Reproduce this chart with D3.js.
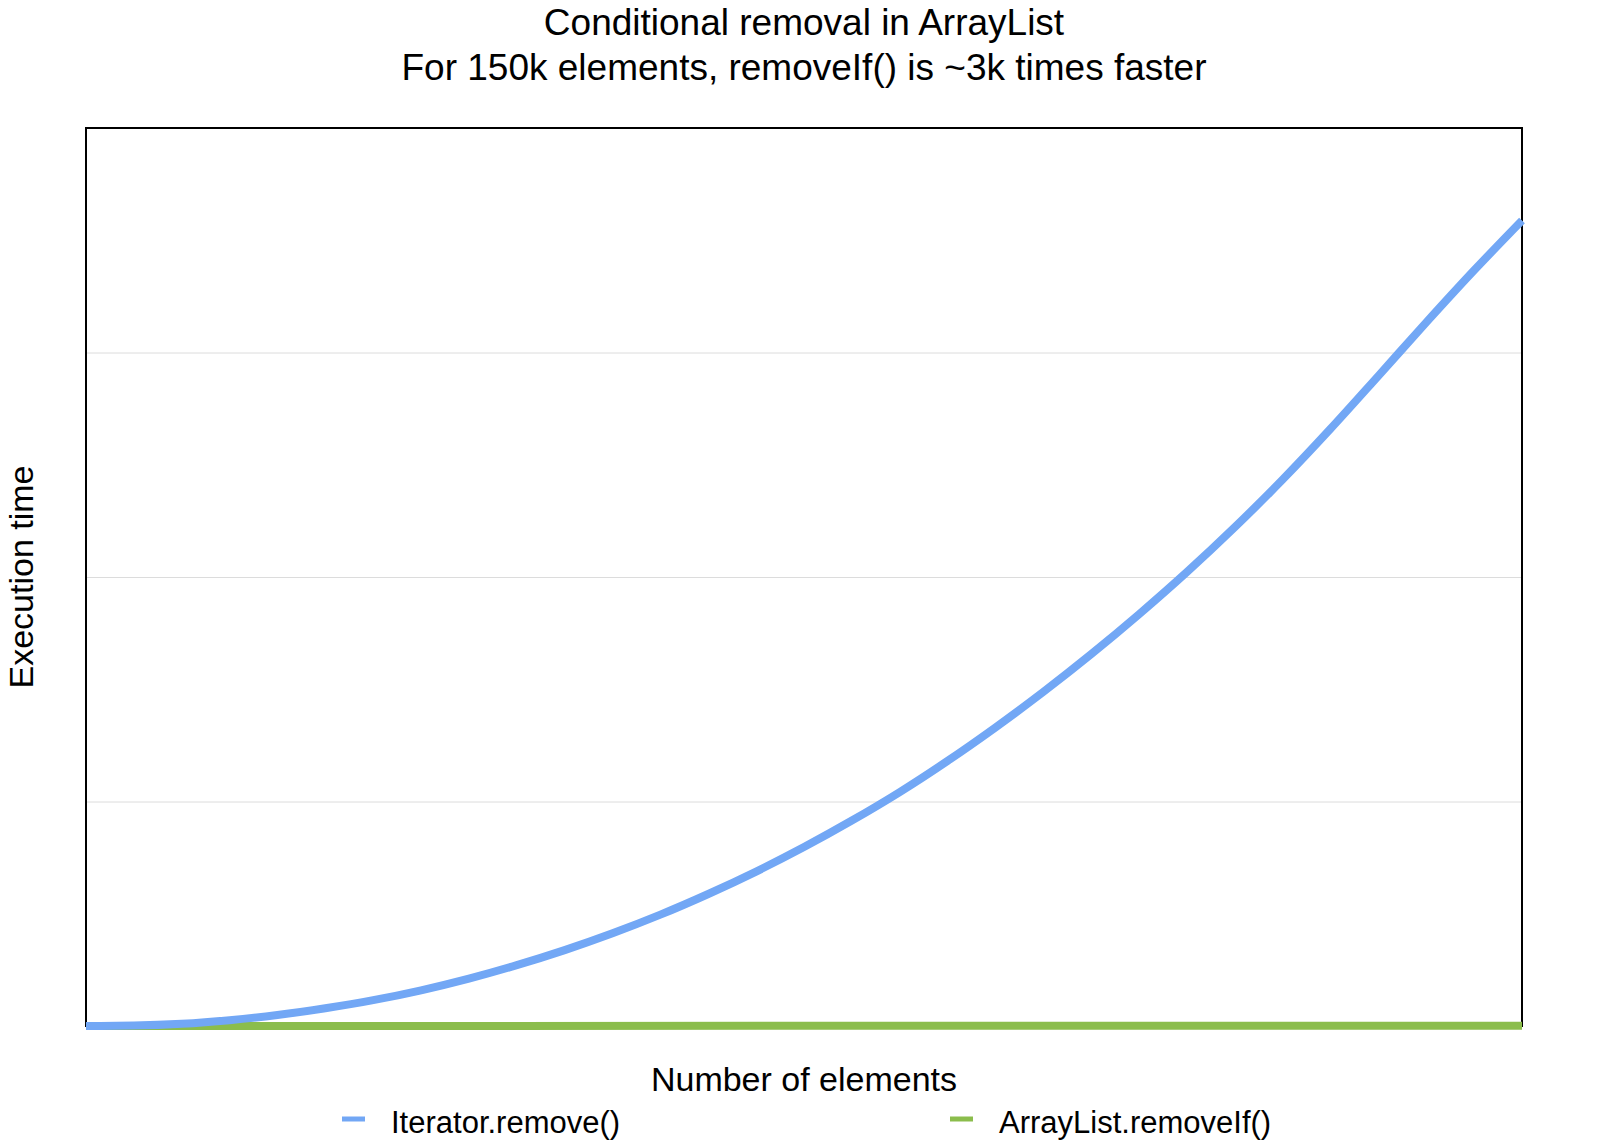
<!DOCTYPE html>
<html>
<head>
<meta charset="utf-8">
<script src="https://cdn.jsdelivr.net/npm/d3@7"></script>
<style>
  body { margin: 0; background: #fff; }
  text { font-family: "Liberation Sans", Arial, Helvetica, sans-serif; fill: #000; }
</style>
</head>
<body>
<div id="plot"></div>
<script>
// number of elements (thousands)
let elementsK = [0, 5, 10, 15, 20, 25, 30, 35, 40, 45, 50, 55, 60, 65, 70, 75,
  80, 85, 90, 95, 100, 105, 110, 115, 120, 125, 130, 135, 140, 145, 150];
// Iterator.remove() execution time (relative units, gridline = 1)
let iteratorTimes = [0, 0.002, 0.010, 0.026, 0.049, 0.079, 0.115, 0.159, 0.211, 0.271,
  0.338, 0.413, 0.496, 0.588, 0.688, 0.797, 0.915, 1.042, 1.181, 1.330,
  1.488, 1.656, 1.834, 2.022, 2.222, 2.434, 2.660, 2.896, 3.134, 3.366, 3.588];
// ArrayList.removeIf() execution time - flat along the bottom
let removeIfElementsK = [0, 150];
let removeIfTimes = [0, 0.0012];

let seriesNames = ['Iterator.remove()', 'ArrayList.removeIf()'];
let titleLines = ['Conditional removal in ArrayList', 'For 150k elements, removeIf() is ~3k times faster'];
let gridValues = [1, 2, 3];

let width = 1600, height = 1140;
let margin = { top: 128, bottom: 114, left: 86, right: 78 };

const colors = d3.scaleOrdinal()
  .domain(seriesNames)
  .range(['#72a7f5', '#8bbd4c']);

let svg = d3.select('#plot')
  .append('svg')
  .attr('width', width)
  .attr('height', height);

let xScale = d3.scaleLinear()
  .domain([0, 150])
  .range([margin.left, width - margin.right]);

let yScale = d3.scaleLinear()
  .domain([0, 4])
  .range([height - margin.bottom, margin.top]);

// gridlines
let grid = svg.append('g')
  .attr('transform', `translate(${margin.left},0)`)
  .call(d3.axisLeft(yScale)
    .tickValues(gridValues)
    .tickSize(-(width - margin.left - margin.right))
    .tickFormat(''));
grid.select('.domain').remove();
grid.selectAll('line').attr('stroke', '#dcdcdc').attr('stroke-width', 1);

// plot frame
svg.append('rect')
  .attr('x', margin.left)
  .attr('y', margin.top)
  .attr('width', width - margin.left - margin.right)
  .attr('height', height - margin.top - margin.bottom)
  .attr('fill', 'none')
  .attr('stroke', '#000')
  .attr('stroke-width', 2);

let line = d3.line()
  .x(d => xScale(d[0]))
  .y(d => yScale(d[1]))
  .curve(d3.curveMonotoneX);

svg.append('path')
  .datum(d3.zip(removeIfElementsK, removeIfTimes))
  .attr('d', line)
  .attr('fill', 'none')
  .attr('stroke', colors(seriesNames[1]))
  .attr('stroke-width', 8);

svg.append('path')
  .datum(d3.zip(elementsK, iteratorTimes))
  .attr('d', line)
  .attr('fill', 'none')
  .attr('stroke', colors(seriesNames[0]))
  .attr('stroke-width', 8)
  .attr('stroke-linejoin', 'round');

// title
let cx = (margin.left + width - margin.right) / 2;
svg.selectAll('.title')
  .data(titleLines)
  .enter()
  .append('text')
  .attr('class', 'title')
  .attr('x', cx)
  .attr('y', (d, i) => 35 + i * 45)
  .attr('text-anchor', 'middle')
  .style('font-size', '37px')
  .text(d => d);

// axis titles
svg.append('text')
  .attr('x', cx)
  .attr('y', 1091)
  .attr('text-anchor', 'middle')
  .style('font-size', '34px')
  .text('Number of elements');

svg.append('text')
  .attr('transform', `translate(33,${(margin.top + height - margin.bottom) / 2}) rotate(-90)`)
  .attr('text-anchor', 'middle')
  .style('font-size', '34px')
  .text('Execution time');

// legend
let legendX = [342, 950];
let legend = svg.selectAll('.legend')
  .data(seriesNames)
  .enter()
  .append('g')
  .attr('class', 'legend')
  .attr('transform', (d, i) => `translate(${legendX[i]},1119)`);

legend.append('line')
  .attr('x1', 0).attr('x2', 23)
  .attr('y1', 0).attr('y2', 0)
  .attr('stroke', d => colors(d))
  .attr('stroke-width', 5);

legend.append('text')
  .attr('x', 49)
  .attr('y', 14)
  .style('font-size', '31px')
  .text(d => d);
</script>
</body>
</html>
